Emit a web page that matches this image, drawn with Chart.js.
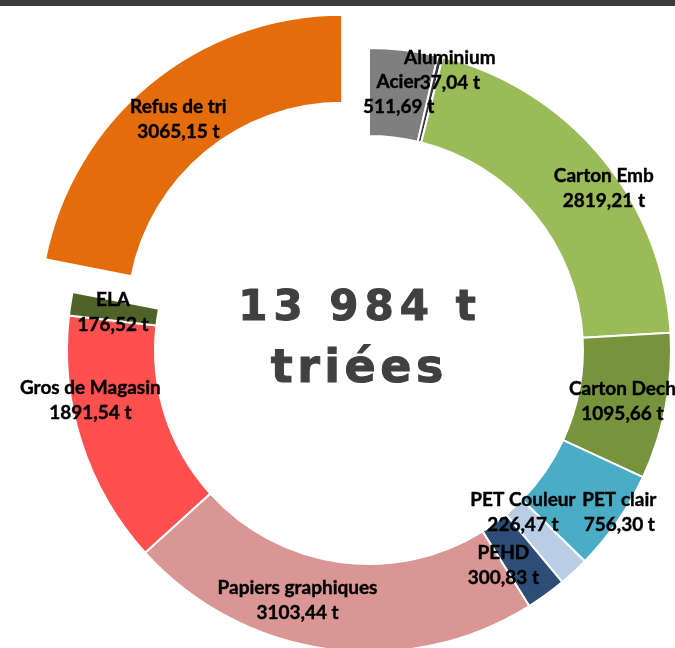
<!DOCTYPE html>
<html>
<head>
<meta charset="utf-8">
<script src="https://cdn.jsdelivr.net/npm/chart.js@4.4.1/dist/chart.umd.min.js"></script>
<style>
  html, body { margin: 0; padding: 0; background: #ffffff; overflow: hidden; }
  #wrap { position: relative; width: 675px; height: 648px; overflow: hidden; }
  #topbar { position: absolute; left: 0; top: 0; width: 675px; height: 6px; background: #3b3b3b; }
  #c { position: absolute; left: 0; top: 0; }
</style>
</head>
<body>
<div id="wrap">
  <canvas id="c" width="675" height="648"></canvas>
  <div id="topbar"></div>
</div>
<script>
// Tonnage triée par flux (t)
const categories = ['Acier', 'Aluminium', 'Carton Emb', 'Carton Dech', 'PET clair', 'PET Couleur',
                    'PEHD', 'Papiers graphiques', 'Gros de Magasin', 'ELA', 'Refus de tri'];
const tonnages = [511.69, 37.04, 2819.21, 1095.66, 756.30, 226.47,
                  300.83, 3103.44, 1891.54, 176.52, 3065.15];
const totalCaption = 'triées';

// Presentation
const sliceColors = ['#7f7f7f', '#3a3a3a', '#9bbb59', '#77933c', '#4bacc6', '#b9cde5',
                     '#2c4d75', '#d99694', '#ff5050', '#4f6228', '#e46c0a'];
const sliceOffsets = [0, 0, 0, 0, 0, 0, 0, 0, 0, 0, 168];
// label nudges from the slice centroid, px
const labelNudge = [[0, 0], [20, -29], [36, 2], [0, 3], [38, 15], [-21, -28],
                    [-17, 6], [-36, -6], [-33, -29], [-1, 2], [0, 1]];

const fmtTonnes = v => v.toFixed(2).replace('.', ',') + ' t';
const fmtTotal = v => String(Math.round(v)).replace(/\B(?=(\d{3})+(?!\d))/g, ' ') + ' t';
const total = tonnages.reduce((a, b) => a + b, 0);

const sliceLabels = {
  id: 'sliceLabels',
  afterDatasetsDraw(chart) {
    const ctx = chart.ctx;
    const arcs = chart.getDatasetMeta(0).data;
    ctx.save();
    ctx.font = 'bold 19px Lato';
    ctx.fillStyle = '#000000';
    ctx.strokeStyle = '#000000';
    ctx.lineWidth = 0.4;
    ctx.textAlign = 'center';
    ctx.textBaseline = 'alphabetic';
    arcs.forEach((arc, i) => {
      const p = arc.getProps(['x', 'y', 'startAngle', 'endAngle', 'innerRadius', 'outerRadius']);
      const mid = (p.startAngle + p.endAngle) / 2;
      const rr = (p.innerRadius + p.outerRadius) / 2 + (arc.options.offset || 0) / 4;
      const x = p.x + Math.cos(mid) * rr + labelNudge[i][0];
      const y = p.y + Math.sin(mid) * rr + labelNudge[i][1];
      const lines = [[categories[i], y - 6], [fmtTonnes(tonnages[i]), y + 19]];
      lines.forEach(([t, ly]) => { ctx.fillText(t, x, ly); ctx.strokeText(t, x, ly); });
    });
    ctx.restore();
  }
};

function drawSpaced(ctx, text, cx, baseline, font, spacing) {
  ctx.font = font;
  ctx.letterSpacing = spacing + 'px';
  const w = ctx.measureText(text).width - spacing;
  ctx.textAlign = 'left';
  ctx.fillText(text, cx - w / 2, baseline);
  ctx.strokeText(text, cx - w / 2, baseline);
}

const centerTotal = {
  id: 'centerTotal',
  afterDraw(chart) {
    const ctx = chart.ctx;
    const arc = chart.getDatasetMeta(0).data[0];
    const cx = arc.x - 12, cy = arc.y;
    ctx.save();
    ctx.fillStyle = '#404040';
    ctx.strokeStyle = '#404040';
    ctx.lineWidth = 1;
    ctx.textBaseline = 'alphabetic';
    drawSpaced(ctx, fmtTotal(total), cx, cy - 30, 'bold 42px "DejaVu Sans"', 6);
    drawSpaced(ctx, totalCaption, cx, cy + 32, 'bold 46px "DejaVu Sans"', 4.5);
    ctx.restore();
  }
};

new Chart(document.getElementById('c'), {
  type: 'doughnut',
  data: {
    labels: categories,
    datasets: [{
      data: tonnages,
      backgroundColor: sliceColors,
      borderColor: '#ffffff',
      borderWidth: 2,
      offset: sliceOffsets,
      hoverOffset: 0,
      clip: false
    }]
  },
  options: {
    responsive: false,
    animation: false,
    events: [],
    radius: 302,
    cutout: '70.86%',
    layout: { padding: { left: 63, right: 0, top: 52, bottom: 0 } },
    plugins: {
      legend: { display: false },
      tooltip: { enabled: false }
    }
  },
  plugins: [sliceLabels, centerTotal]
});
</script>
</body>
</html>
